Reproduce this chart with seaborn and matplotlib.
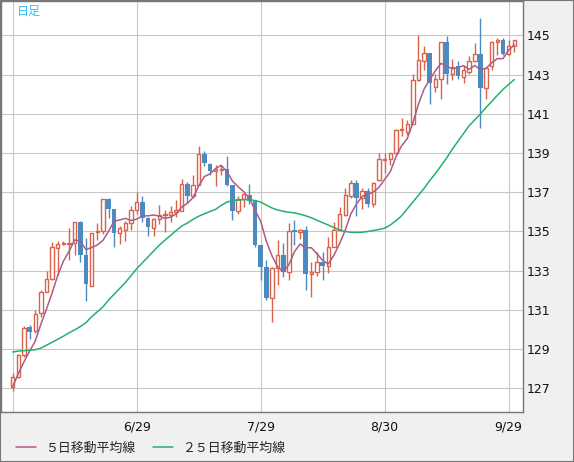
#daily candle chart with 5 / 25 day moving averages

import matplotlib
matplotlib.use('Agg')
import matplotlib.pyplot as plt
from matplotlib.patches import Rectangle
from matplotlib.font_manager import FontProperties
import seaborn as sns
import numpy as np
import pandas as pd

#values, one per trading day
opens = [127.05, 127.6, 128.7, 130.15, 129.9, 130.85, 131.9, 132.6, 134.15, 134.35,
         134.35, 134.4, 135.5, 133.8, 132.2, 134.95, 135.05, 136.65, 136.15, 134.9,
         135.1, 135.45, 136.1, 136.5, 135.7, 135.2, 135.65, 135.85, 135.83, 136.0,
         136.05, 137.4, 136.8, 137.35, 138.95, 138.45, 138.1, 138.15, 138.2, 137.35,
         136.05, 136.65, 136.85, 136.55, 134.3, 133.2, 131.6, 133.15, 133.8, 132.95,
         135.1, 134.95, 135.1, 132.85, 132.95, 133.45, 133.25, 134.2, 135.1, 135.85,
         136.8, 137.45, 136.7, 137.05, 136.4, 137.65, 138.65, 138.72, 139.0, 140.2,
         140.1, 140.5, 142.75, 143.7, 144.1, 142.35, 142.8, 144.65, 143.05, 143.45,
         142.9, 143.15, 143.7, 144.05, 142.3, 143.45, 144.65, 144.75, 144.05, 144.45]
highs = [127.8, 128.75, 130.2, 130.25, 131.0, 132.0, 133.0, 134.45, 134.5, 134.5,
         135.2, 135.5, 135.55, 134.65, 134.9, 135.45, 136.66, 136.7, 136.15, 135.3,
         135.55, 136.3, 137.0, 136.8, 135.75, 135.7, 136.35, 136.1, 136.3, 136.6,
         137.7, 137.55, 137.9, 139.35, 139.1, 138.5, 138.4, 138.4, 138.85, 137.35,
         136.8, 136.95, 137.4, 136.6, 134.3, 133.55, 133.2, 134.55, 134.4, 135.45,
         135.6, 135.15, 135.3, 133.45, 133.95, 133.95, 134.7, 135.5, 136.25, 137.2,
         137.65, 137.65, 137.2, 137.2, 137.5, 139.0, 139.0, 139.0, 140.25, 140.8,
         140.7, 143.05, 145.0, 144.45, 144.1, 143.05, 144.65, 144.95, 143.8, 143.7,
         143.5, 143.95, 144.6, 145.9, 143.35, 144.7, 144.85, 144.85, 144.75, 144.75]
lows = [126.85, 127.5, 128.6, 129.5, 129.8, 130.65, 131.9, 132.5, 132.8, 134.3,
        133.55, 133.8, 133.45, 131.45, 132.2, 134.55, 134.87, 135.7, 134.2, 134.35,
        134.5, 135.1, 135.9, 135.5, 134.75, 134.75, 135.4, 134.95, 135.5, 135.75,
        136.05, 136.45, 136.7, 137.35, 138.35, 137.9, 137.3, 137.9, 137.3, 135.6,
        135.9, 136.25, 136.4, 134.2, 132.5, 131.5, 130.4, 132.25, 132.7, 132.5,
        134.3, 134.6, 132.0, 131.65, 132.75, 132.55, 132.9, 134.2, 135.05, 135.8,
        136.7, 135.8, 136.15, 136.25, 136.25, 137.6, 138.0, 138.4, 138.95, 139.85,
        139.9, 140.5, 142.7, 143.25, 141.5, 142.1, 141.75, 142.5, 142.75, 142.8,
        142.6, 143.05, 143.65, 140.3, 141.75, 143.25, 144.0, 144.0, 144.0, 144.15]
closes = [127.6, 128.7, 130.1, 129.85, 130.8, 131.9, 132.6, 134.2, 134.35, 134.4,
          134.4, 135.5, 133.8, 132.3, 134.9, 135.05, 136.65, 136.15, 134.9, 135.2,
          135.45, 136.1, 136.5, 135.7, 135.25, 135.65, 135.85, 135.9, 136.0, 136.1,
          137.4, 136.8, 137.35, 138.95, 138.5, 138.1, 138.17, 138.2, 137.35, 136.05,
          136.65, 136.9, 136.55, 134.3, 133.2, 131.6, 133.15, 133.8, 132.95, 135.0,
          134.95, 135.08, 132.85, 132.95, 133.45, 133.25, 134.2, 135.1, 135.9, 136.85,
          137.45, 136.7, 137.05, 136.4, 137.45, 138.7, 138.72, 139.0, 140.2, 140.25,
          140.5, 142.75, 143.75, 144.1, 142.6, 142.8, 144.65, 143.05, 143.4, 142.95,
          143.25, 143.7, 144.05, 142.3, 143.35, 144.65, 144.75, 144.05, 144.45, 144.75]
ma5 = [127.1, 127.75, 128.35, 128.9, 129.41, 130.27, 131.05, 131.87, 132.77, 133.49,
       133.99, 134.57, 134.49, 134.08, 134.18, 134.31, 134.54, 135.01, 135.53, 135.59,
       135.67, 135.56, 135.63, 135.79, 135.8, 135.84, 135.79, 135.67, 135.73, 135.9,
       136.25, 136.44, 136.73, 137.32, 137.8, 137.94, 138.21, 138.38, 138.06, 137.57,
       137.28, 137.03, 136.7, 136.09, 135.52, 134.51, 133.76, 133.21, 132.94, 133.3,
       133.97, 134.36, 134.17, 134.17, 133.86, 133.52, 133.34, 133.79, 134.38, 135.06,
       135.9, 136.4, 136.79, 136.89, 137.01, 137.26, 137.66, 138.05, 138.81, 139.37,
       139.73, 140.54, 141.49, 142.27, 142.74, 143.2, 143.58, 143.44, 143.3, 143.37,
       143.46, 143.27, 143.47, 143.25, 143.33, 143.61, 143.82, 143.82, 144.25, 144.53]
ma25 = [128.85, 128.9, 128.92, 128.94, 128.97, 129.05, 129.2, 129.35, 129.5, 129.66,
        129.83, 129.98, 130.15, 130.35, 130.65, 130.9, 131.15, 131.5, 131.8, 132.1,
        132.4, 132.75, 133.1, 133.4, 133.7, 134.0, 134.3, 134.55, 134.8, 135.05,
        135.28, 135.43, 135.62, 135.78, 135.9, 136.02, 136.13, 136.33, 136.5, 136.58,
        136.6, 136.63, 136.62, 136.58, 136.5, 136.35, 136.2, 136.1, 136.03, 135.98,
        135.95, 135.88, 135.8, 135.7, 135.57, 135.45, 135.33, 135.2, 135.08, 135.0,
        134.96, 134.95, 134.96, 135.0, 135.05, 135.1, 135.17, 135.33, 135.55, 135.8,
        136.15, 136.5, 136.85, 137.2, 137.6, 137.95, 138.35, 138.75, 139.2, 139.6,
        140.0, 140.4, 140.7, 141.0, 141.33, 141.63, 141.95, 142.25, 142.5, 142.75]

tick_idx = [0, 22, 44, 66, 88]
tick_labels = ['', '6/29', '7/29', '8/30', '9/29']
y_ticks = [127, 129, 131, 133, 135, 137, 139, 141, 143, 145]

UP = '#d9624a'
DOWN = '#4b8bc0'
MA5_COL = '#b05a88'
MA25_COL = '#25b06e'
GRID = '#c8c8c8'
FRAME = '#767676'
PANEL = '#f0f0f0'

sns.set_style('white')
plt.rcParams['font.family'] = ['DejaVu Sans', 'Noto Sans CJK JP']

fig = plt.figure(figsize=(5.74, 4.62), dpi=100, facecolor=PANEL)
ax = fig.add_axes([1 / 574, 50 / 462, 522 / 574, 411 / 462])
ax.set_facecolor('white')

df = pd.DataFrame({'o': opens, 'h': highs, 'l': lows, 'c': closes})
df['x'] = np.arange(len(df))
up = df['c'] >= df['o']

#wicks first, then bodies on top
wick_cols = [UP if u else DOWN for u in up]
ax.vlines(df['x'], df['l'], df['h'], colors=wick_cols, lw=1, zorder=2)
ax.bar(df['x'][up], (df['c'] - df['o'])[up], bottom=df['o'][up], width=0.6,
       facecolor='white', edgecolor=UP, lw=1, zorder=3)
ax.bar(df['x'][~up], (df['o'] - df['c'])[~up], bottom=df['c'][~up], width=0.82,
       color=DOWN, lw=0, zorder=3)

#moving averages
sns.lineplot(x=df['x'], y=ma5, color=MA5_COL, lw=0.9, ax=ax, label='５日移動平均線', zorder=4)
sns.lineplot(x=df['x'], y=ma25, color=MA25_COL, lw=0.9, ax=ax, label='２５日移動平均線', zorder=4)
handles, labels = ax.get_legend_handles_labels()
ax.get_legend().remove()

ax.set_xlim(-2.08, 90.55)
ax.set_ylim(125.79, 146.76)
ax.set_xticks(tick_idx)
ax.set_xticklabels(tick_labels)
ax.set_yticks(y_ticks)
ax.yaxis.tick_right()
ax.grid(True, color=GRID, lw=0.8)
ax.set_axisbelow(True)
ax.set_xlabel('')
ax.set_ylabel('')
ax.tick_params(axis='y', length=0, pad=3, labelsize=9, labelcolor='#111111')
ax.tick_params(axis='x', length=0, pad=6, labelsize=9, labelcolor='#111111')
for sp in ax.spines.values():
    sp.set_visible(True)
    sp.set_color(FRAME)
    sp.set_linewidth(1)

ax.text(16 / 522, 1 - 10 / 411, '日足', transform=ax.transAxes, ha='left', va='center',
        color='#3dbcf0', fontsize=8.7, family=['Noto Sans CJK JP', 'DejaVu Sans'])

#legend handles a little heavier so the colours read at this size
for h in handles:
    h.set_linewidth(1.1)
fig.legend(handles, labels, loc='center left', bbox_to_anchor=(16 / 574, 14 / 462),
           ncol=2, frameon=False, handlelength=1.55, handletextpad=0.7,
           columnspacing=1.4, borderpad=0, borderaxespad=0,
           prop=FontProperties(family='Noto Sans CJK JP', size=9.3))

#outer frame
fig.patches.append(Rectangle((0, 0), 1, 1, transform=fig.transFigure, fill=False,
                             ec=FRAME, lw=1.5, zorder=10))

fig.savefig('out.png', dpi=100, facecolor=PANEL)
